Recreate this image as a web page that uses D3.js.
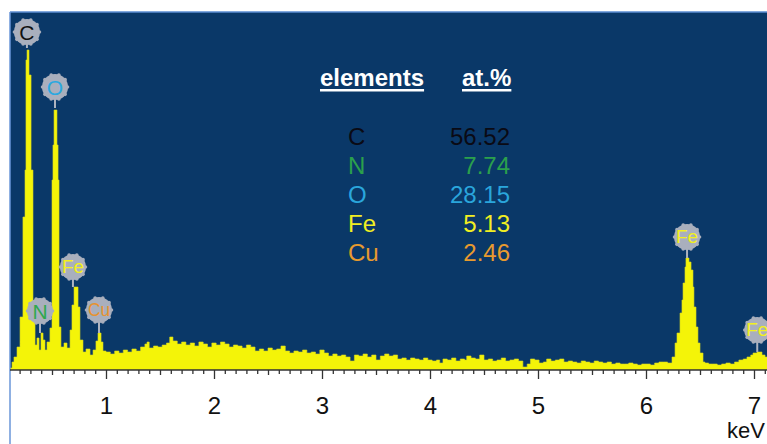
<!DOCTYPE html>
<html><head><meta charset="utf-8">
<script src="https://cdn.jsdelivr.net/npm/d3@7"></script>
<style>html,body{margin:0;padding:0;background:#fff;}svg{display:block;}</style>
</head><body>
<script>
// ---- data ----
const energy = [0.111,0.130,0.148,0.176,0.204,0.231,0.250,0.259,0.269,0.287,0.306,0.324,0.343,0.361,0.380,0.398,0.417,0.435,0.454,0.481,0.500,0.509,0.519,0.546,0.556,0.565,0.583,0.611,0.639,0.667,0.685,0.704,0.741,0.759,0.787,0.815,0.852,0.880,0.907,0.926,0.954,0.972,
1.00,1.04,1.08,1.12,1.16,1.20,1.24,1.28,1.32,1.36,1.38,1.40,1.44,1.48,1.52,1.56,1.59,1.62,1.66,1.70,1.74,1.78,1.82,1.86,1.90,1.94,1.98,2.02,2.06,2.10,2.14,2.18,2.22,2.26,2.30,2.34,2.38,2.42,2.46,2.50,2.54,2.58,2.62,2.66,2.70,2.74,2.78,2.82,2.86,2.90,2.94,2.98,3.02,3.06,3.10,3.14,3.18,3.22,3.26,3.30,3.34,3.38,3.42,3.46,3.50,3.54,3.58,3.62,3.66,3.70,3.74,3.78,3.82,3.86,3.90,3.94,3.98,4.02,4.06,4.09,4.12,4.16,4.20,4.24,4.28,4.32,4.34,4.38,4.42,4.46,4.50,4.54,4.58,4.62,4.66,4.70,4.74,4.78,4.82,4.86,4.90,4.93,4.97,5.01,5.05,5.08,5.12,5.16,5.20,5.24,5.28,5.32,5.36,5.40,5.44,5.48,5.52,5.56,5.60,5.64,5.68,5.72,5.76,5.80,5.84,5.88,5.92,5.96,6.00,6.04,6.08,6.12,6.16,6.20,
6.241,6.269,6.287,6.315,6.333,6.343,6.361,6.370,6.398,6.417,6.435,6.444,6.463,6.481,6.500,6.528,6.546,6.58,6.62,6.66,6.70,6.74,6.78,6.82,6.86,6.90,6.935,6.97,6.991,7.028,7.074,7.102,7.13];
const counts = [2,8,13,23,53,153,200,310,320,295,200,50,25,32,20,37,30,20,28,42,190,225,260,225,190,43,23,27,22,40,65,83,63,30,18,21,15,20,29,37,28,19,
18,16,19,17,20,18,21,19,23,26,28,22,24,23,25,27,33,29,26,28,25,27,24,28,26,23,27,25,28,26,23,25,24,22,25,23,19,21,19,22,20,21,24,19,17,19,18,20,17,18,16,20,17,14,16,14,15,13,9,15,14,16,13,15,10,14,16,14,15,11,12,10,12,11,10,12,10,9,10,7,11,10,12,9,11,10,14,12,11,15,10,11,9,10,12,9,10,11,9,3,6,11,10,7,8,11,9,10,11,8,9,8,7,9,8,7,9,8,7,8,6,7,6,6,7,6,5,6,6,5,7,8,8,7,
13,27,37,57,70,87,103,112,108,100,83,63,43,27,17,8,7,6,6,5,6,7,6,8,10,11,13,15,17,18,15,13,13];

const elementLabels = ["C","N","O","Fe","Cu","Fe","Fe"];
const labelEnergy   = [0.268,0.389,0.528,0.694,0.935,6.38,7.03];
const labelLevel    = [338,59,283,103,60,133,40];
const peakLevel     = [322,37,262,83,37,112,18];
const labelColor    = ["#111111","#2fa84f","#2aa8e0","#f2f020","#e8922e","#f2f020","#f2f020"];

const tableElements = ["C","N","O","Fe","Cu"];
const tableValues   = ["56.52","7.74","28.15","5.13","2.46"];
const tableColors   = ["#0a0a14","#2ba04c","#2aa6dc","#f0ee22","#e89a2e"];
const tableHeaders  = ["elements","at.%"];

const majorTicks = [1,2,3,4,5,6,7];
const halfTicks = [0.5,1.5,2.5,3.5,4.5,5.5,6.5];
const minorTicks = d3.range(2,72).map(d=>d/10).filter(d=>Math.abs(d*2-Math.round(d*2))>0.01);

// ---- layout ----
const W=767,H=444;
const plotL=10, plotR=767, plotT=12, axisY=370;
const FONT="'Liberation Sans', Arial, Helvetica, sans-serif";

const svg=d3.select("body").append("svg").attr("width",W).attr("height",H);
const x=d3.scaleLinear().domain([0,7]).range([-2,754]);
const y=d3.scaleLinear().domain([0,358]).range([axisY,plotT]);

svg.append("defs").append("clipPath").attr("id","clip")
  .append("rect").attr("x",plotL).attr("y",plotT).attr("width",plotR-plotL).attr("height",axisY-plotT);

svg.append("rect").attr("x",plotL).attr("y",plotT).attr("width",plotR-plotL).attr("height",axisY-plotT).attr("fill","#0a3868");

const pts=energy.map((e,i)=>[e,counts[i]]);
const area=d3.area().x(d=>x(d[0])).y0(y(0)).y1(d=>y(d[1])).curve(d3.curveStepAfter);
svg.append("path").datum(pts).attr("clip-path","url(#clip)")
  .attr("d",area).attr("fill","#f4f408").attr("stroke","#d8d820").attr("stroke-width",0.6);

// borders
svg.append("line").attr("x1",plotL).attr("x2",plotR).attr("y1",plotT).attr("y2",plotT).attr("stroke","#5b8dd2").attr("stroke-width",1.5);
svg.append("line").attr("x1",plotL).attr("x2",plotL).attr("y1",plotT).attr("y2",H).attr("stroke","#6a96d8").attr("stroke-width",1.5);

// axis
const gMinor=svg.append("g").attr("transform",`translate(0,${axisY})`)
  .call(d3.axisBottom(x).tickValues(minorTicks).tickSize(4).tickFormat(""));
const gHalf=svg.append("g").attr("transform",`translate(0,${axisY})`)
  .call(d3.axisBottom(x).tickValues(halfTicks).tickSize(5).tickFormat(""));
const gMajor=svg.append("g").attr("transform",`translate(0,${axisY})`)
  .call(d3.axisBottom(x).tickValues(majorTicks).tickSize(9).tickPadding(18).tickFormat(d3.format("d")));
[gMinor,gHalf,gMajor].forEach(g=>{g.select(".domain").remove();g.selectAll("line").attr("stroke","#333").attr("stroke-width",1.3);});
gMajor.selectAll("text").attr("font-family",FONT).attr("font-size",24).attr("fill","#111");
svg.append("line").attr("x1",plotL).attr("x2",plotR).attr("y1",axisY).attr("y2",axisY).attr("stroke","#333").attr("stroke-width",1.5);
svg.append("text").attr("x",765).attr("y",438).attr("text-anchor","end").attr("font-family",FONT).attr("font-size",22).attr("fill","#111").text("keV");

// peak labels
const lab=svg.append("g");
elementLabels.forEach((el,i)=>{
  const cx=x(labelEnergy[i]), cy=y(labelLevel[i]);
  const g=lab.append("g");
  g.append("line").attr("x1",cx).attr("x2",cx).attr("y1",cy).attr("y2",y(peakLevel[i])).attr("stroke","#aeb4c0").attr("stroke-width",2);
  d3.range(10).forEach(k=>{
    const a=k/10*2*Math.PI;
    g.append("circle").attr("cx",cx+12.5*Math.cos(a)).attr("cy",cy+12.5*Math.sin(a)).attr("r",1.8).attr("fill","#a7adbb");
  });
  g.append("circle").attr("cx",cx).attr("cy",cy).attr("r",13).attr("fill","#a9afbd");
  g.append("text").attr("x",cx).attr("y",cy).attr("dy","0.36em").attr("text-anchor","middle")
    .attr("font-family",FONT).attr("font-size",el.length>1?18:21).attr("fill",labelColor[i])
    .attr("textLength",el.length>1?22:null).attr("lengthAdjust","spacingAndGlyphs").text(el);
});

// table
const tb=svg.append("g").attr("font-family",FONT);
const hx=[320,462];
tableHeaders.forEach((h,i)=>{
  const t=tb.append("text").attr("x",hx[i]).attr("y",86).attr("font-size",24).attr("font-weight","bold").attr("fill","#fff").text(h);
  const w=t.node().getComputedTextLength();
  tb.append("rect").attr("x",hx[i]).attr("y",89).attr("width",w).attr("height",2.5).attr("fill","#fff");
});
tableElements.forEach((el,i)=>{
  const by=145+29*i;
  tb.append("text").attr("x",348).attr("y",by).attr("font-size",24).attr("fill",tableColors[i]).text(el);
  tb.append("text").attr("x",510).attr("y",by).attr("font-size",24).attr("text-anchor","end").attr("fill",tableColors[i]).text(tableValues[i]);
});
</script>
</body></html>
